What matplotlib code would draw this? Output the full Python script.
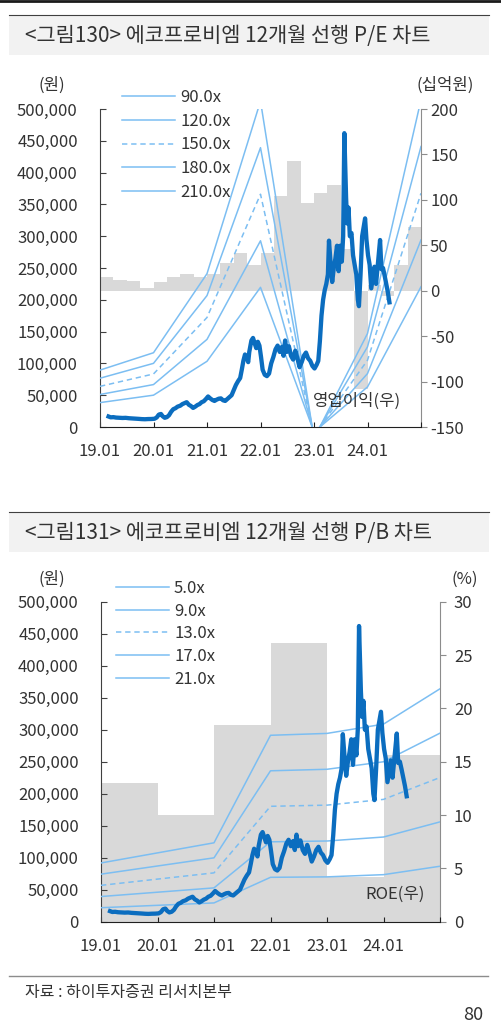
import matplotlib.pyplot as plt
from matplotlib.lines import Line2D
from matplotlib.patches import Rectangle

plt.rcParams['font.family'] = ['Noto Sans CJK KR', 'DejaVu Sans']

W, H = 502, 1026

# ---- data ----
# daily close (decimal year, won), thinned to the visible turning points
price_dates = [
    2019.16, 2019.20, 2019.25, 2019.30, 2019.36, 2019.42, 2019.48, 2019.54, 2019.60, 2019.66,
    2019.72, 2019.78, 2019.84, 2019.90, 2019.96, 2020.02, 2020.06, 2020.10, 2020.14, 2020.17,
    2020.21, 2020.25, 2020.29, 2020.33, 2020.37, 2020.41, 2020.45, 2020.50, 2020.54, 2020.58,
    2020.62, 2020.66, 2020.70, 2020.74, 2020.78, 2020.82, 2020.86, 2020.90, 2020.94, 2020.98,
    2021.02, 2021.06, 2021.10, 2021.14, 2021.18, 2021.22, 2021.26, 2021.30, 2021.34, 2021.38,
    2021.42, 2021.46, 2021.50, 2021.54, 2021.58, 2021.62, 2021.65, 2021.68, 2021.71, 2021.74,
    2021.77, 2021.79, 2021.83, 2021.86, 2021.89, 2021.92, 2021.95, 2021.98, 2022.01, 2022.04,
    2022.08, 2022.12, 2022.16, 2022.20, 2022.24, 2022.28, 2022.32, 2022.36, 2022.40, 2022.43,
    2022.46, 2022.49, 2022.53, 2022.57, 2022.61, 2022.65, 2022.69, 2022.73, 2022.77, 2022.81,
    2022.85, 2022.89, 2022.93, 2022.97, 2023.01, 2023.05, 2023.08, 2023.11, 2023.14, 2023.17,
    2023.20, 2023.23, 2023.26, 2023.28, 2023.31, 2023.34, 2023.37, 2023.40, 2023.43, 2023.46,
    2023.49, 2023.52, 2023.545, 2023.567, 2023.585, 2023.60, 2023.62, 2023.645, 2023.67, 2023.70,
    2023.73, 2023.76, 2023.79, 2023.82, 2023.84, 2023.87, 2023.90, 2023.93, 2023.955, 2023.98,
    2024.01, 2024.04, 2024.07, 2024.10, 2024.13, 2024.16, 2024.20, 2024.235, 2024.26, 2024.29,
    2024.32, 2024.35, 2024.38, 2024.41,
]
price_values = [
    16500, 15200, 15500, 14800, 14500, 14200, 14400, 13800, 13500, 13300,
    12800, 12400, 12200, 12500, 12600, 13000, 15000, 19500, 20500, 17000,
    14500, 15500, 18500, 24000, 28000, 29500, 32000, 33500, 36000, 37500,
    39000, 35000, 33000, 30000, 32000, 34500, 36000, 39000, 40500, 44000,
    48000, 45000, 42500, 41000, 43000, 44500, 45000, 42000, 41000, 44000,
    47000, 50000, 58000, 66000, 72000, 77000, 90000, 104000, 114000, 110000,
    102000, 118000, 136000, 140000, 132000, 124000, 134000, 128000, 110000, 90000,
    82000, 80000, 84000, 100000, 110000, 122000, 128000, 118000, 126000, 112000,
    136000, 118000, 127000, 112000, 106000, 120000, 108000, 94000, 102000, 112000,
    117000, 108000, 104000, 96000, 92000, 98000, 104000, 135000, 175000, 200000,
    215000, 225000, 240000, 293000, 258000, 228000, 250000, 265000, 285000, 245000,
    285000, 260000, 300000, 462000, 405000, 360000, 320000, 345000, 300000, 305000,
    270000, 255000, 240000, 200000, 190000, 240000, 300000, 315000, 328000, 295000,
    270000, 255000, 218000, 235000, 252000, 225000, 262000, 294000, 248000, 250000,
    238000, 225000, 212000, 196000,
]

# P/E band: forward EPS at each January (won)
band_years = [2019, 2020, 2021, 2022, 2023, 2024, 2025]
pe_eps = [426, 556, 1148, 2440, -86, 700, 2450]
pe_multiples = [90, 120, 150, 180, 210]
pe_labels = ['90.0x', '120.0x', '150.0x', '180.0x', '210.0x']

# quarterly operating profit (bn won), 19.1Q .. 24.4Q
op_profit = [15.4, 11.7, 10.6, 2.6, 9.2, 14.7, 18.7, 14.7,
             18.7, 30, 41, 28, 41, 104, 143, 96,
             108, 116, 46, -108, 6, -6, 28, 70]

# P/B band: forward BPS at each January (won)
pb_bps = [4370, 5120, 5870, 13870, 14010, 14700, 17330]
pb_multiples = [5, 9, 13, 17, 21]
pb_labels = ['5.0x', '9.0x', '13.0x', '17.0x', '21.0x']

# annual ROE (%)
roe_years = [2019, 2020, 2021, 2022, 2023, 2024]
roe = [13.0, 10.0, 18.4, 26.1, 4.2, 15.6]

year_ticks = [2019, 2020, 2021, 2022, 2023, 2024, 2025]
year_labels = ['19.01', '20.01', '21.01', '22.01', '23.01', '24.01', '']

price_ticks = [0, 50000, 100000, 150000, 200000, 250000, 300000, 350000, 400000, 450000, 500000]
op_ticks = [-150, -100, -50, 0, 50, 100, 150, 200]
roe_ticks = [0, 5, 10, 15, 20, 25, 30]

BAND = '#7CBEF2'
PRICE = '#0B6DBF'
BAR = '#D9D9D9'
TXT = '#333333'
FS = 12


def fx(px):
    return px / W


def fy(py):
    return 1 - py / H


def make_axes(fig, left, top, right, bottom):
    ax = fig.add_axes([fx(left), fy(bottom), (right - left) / W, (bottom - top) / H])
    ax2 = ax.twinx()
    ax.set_zorder(ax2.get_zorder() + 1)
    ax.patch.set_visible(False)
    for s in ['top', 'right']:
        ax.spines[s].set_visible(False)
    for s in ['top', 'left', 'bottom']:
        ax2.spines[s].set_visible(False)
    ax.spines['left'].set_color('#404040')
    ax.spines['bottom'].set_color('#202020')
    ax2.spines['right'].set_color('#8C8C8C')
    ax.set_xlim(2019, 2025)
    ax.set_ylim(0, 500000)
    ax.set_yticks(price_ticks)
    ax.set_yticklabels([f'{v:,}' for v in price_ticks])
    ax.set_xticks(year_ticks)
    ax.set_xticklabels(year_labels)
    ax.tick_params(axis='y', direction='in', length=4.5, width=0.8, pad=16,
                   labelsize=FS, color='#404040', labelcolor=TXT)
    ax.tick_params(axis='x', direction='in', length=3.5, width=0.8, pad=11.5,
                   labelsize=FS, color='#202020', labelcolor=TXT)
    ax2.tick_params(axis='y', direction='out', length=4, width=0.8, pad=2.5,
                    labelsize=FS, color='#8C8C8C', labelcolor=TXT)
    return ax, ax2


def band_lines(ax, base, multiples, labels):
    handles = []
    for m, lab in zip(multiples, labels):
        ls = (0, (3.5, 2.5)) if lab in ('150.0x', '13.0x') else '-'
        h, = ax.plot(band_years, [b * m for b in base], color=BAND, lw=1.1,
                     ls=ls, label=lab, zorder=3)
        handles.append(h)
    return handles


fig = plt.figure(figsize=(W / 100, H / 100), dpi=100)

# page furniture
fig.add_artist(Line2D([0, 1], [fy(1.3), fy(1.3)], color='#1a1a1a', lw=2))
for top, title in [(15, '<그림130> 에코프로비엠 12개월 선행 P/E 차트'),
                   (512, '<그림131> 에코프로비엠 12개월 선행 P/B 차트')]:
    fig.add_artist(Rectangle((fx(9), fy(top + 40)), 480 / W, 40 / H,
                             facecolor='#F2F2F2', edgecolor='none'))
    fig.add_artist(Line2D([fx(9), fx(489)], [fy(top), fy(top)], color='#404040', lw=0.8))
    fig.text(fx(25), fy(top + 21), title, fontsize=15, color=TXT, va='center')

# ---- chart 1: P/E band ----
ax, ax2 = make_axes(fig, 100, 109, 421, 427)
quarter_x = [2019 + i * 0.25 for i in range(len(op_profit))]
ax2.bar(quarter_x, op_profit, width=0.25, align='edge', color=BAR, linewidth=0)
ax2.set_ylim(-150, 200)
ax2.set_yticks(op_ticks)
ax2.set_yticklabels([str(v) for v in op_ticks])
h1 = band_lines(ax, pe_eps, pe_multiples, pe_labels)
ax.plot(price_dates, price_values, color=PRICE, lw=3.1, zorder=5, solid_joinstyle='round')
ax.legend(handles=h1, loc='upper left', bbox_to_anchor=(fx(122), fy(89)),
          bbox_transform=fig.transFigure, frameon=False, fontsize=FS,
          handlelength=3.18, handletextpad=0.3, labelspacing=0.4,
          borderpad=0, borderaxespad=0, labelcolor=TXT)
fig.text(fx(52), fy(85), '(원)', fontsize=FS, color=TXT, ha='center', va='center')
fig.text(fx(445), fy(85), '(십억원)', fontsize=FS, color=TXT, ha='center', va='center')
fig.text(fx(357), fy(401), '영업이익(우)', fontsize=FS, color=TXT, ha='center', va='center')

# ---- chart 2: P/B band ----
bx, bx2 = make_axes(fig, 101, 601.7, 440, 921.7)
bx2.bar(roe_years, roe, width=1.0, align='edge', color=BAR, linewidth=0)
bx2.set_ylim(0, 30)
bx2.set_yticks(roe_ticks)
bx2.set_yticklabels([str(v) for v in roe_ticks])
bx2.tick_params(axis='y', pad=6)
h2 = band_lines(bx, pb_bps, pb_multiples, pb_labels)
bx.plot(price_dates, price_values, color=PRICE, lw=3.1, zorder=5, solid_joinstyle='round')
bx.legend(handles=h2, loc='upper left', bbox_to_anchor=(fx(116), fy(580)),
          bbox_transform=fig.transFigure, frameon=False, fontsize=FS,
          handlelength=3.18, handletextpad=0.3, labelspacing=0.34,
          borderpad=0, borderaxespad=0, labelcolor=TXT)
fig.text(fx(52), fy(579), '(원)', fontsize=FS, color=TXT, ha='center', va='center')
fig.text(fx(465), fy(579), '(%)', fontsize=FS, color=TXT, ha='center', va='center')
fig.text(fx(395), fy(894), 'ROE(우)', fontsize=FS, color=TXT, ha='center', va='center')

# footer
fig.add_artist(Line2D([fx(9), fx(488)], [fy(976), fy(976)], color='#8C8C8C', lw=1))
fig.text(fx(25), fy(993), '자료 : 하이투자증권 리서치본부', fontsize=11.5, color=TXT, va='center')
fig.text(fx(483), fy(1015), '80', fontsize=13, color=TXT, ha='right', va='center')

fig.savefig('out.png', dpi=100)
